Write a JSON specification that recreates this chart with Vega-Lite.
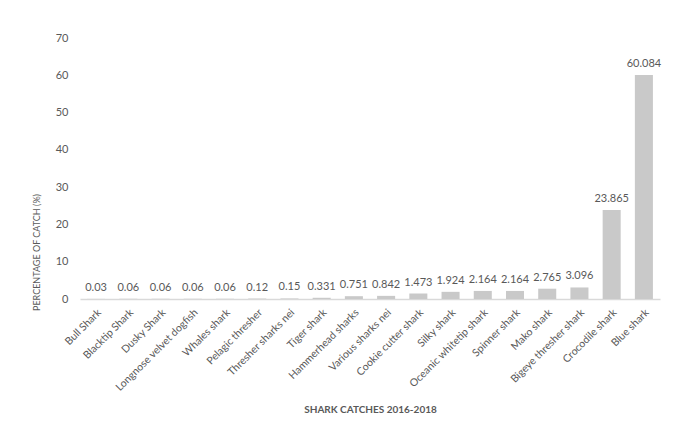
{
  "$schema": "https://vega.github.io/schema/vega-lite/v6.json",
  "description": "Shark catches 2016-2018, percentage of catch by species",
  "width": 580,
  "height": 261,
  "autosize": {"type": "none"},
  "padding": {"left": 80, "top": 38, "right": 22, "bottom": 136},
  "background": "white",
  "config": {
    "font": "Lato",
    "view": {"stroke": null},
    "axis": {"labelColor": "#595959", "titleColor": "#595959", "grid": false}
  },
  "data": {
    "values": [
      {"species": "Bull Shark", "pct": 0.03},
      {"species": "Blacktip Shark", "pct": 0.06},
      {"species": "Dusky Shark", "pct": 0.06},
      {"species": "Longnose velvet dogfish", "pct": 0.06},
      {"species": "Whales shark", "pct": 0.06},
      {"species": "Pelagic thresher", "pct": 0.12},
      {"species": "Thresher sharks nei", "pct": 0.15},
      {"species": "Tiger shark", "pct": 0.331},
      {"species": "Hammerhead sharks", "pct": 0.751},
      {"species": "Various sharks nei", "pct": 0.842},
      {"species": "Cookie cutter shark", "pct": 1.473},
      {"species": "Silky shark", "pct": 1.924},
      {"species": "Oceanic whitetip shark", "pct": 2.164},
      {"species": "Spinner shark", "pct": 2.164},
      {"species": "Mako shark", "pct": 2.765},
      {"species": "Bigeye thresher shark", "pct": 3.096},
      {"species": "Crocodile shark", "pct": 23.865},
      {"species": "Blue shark", "pct": 60.084}
    ]
  },
  "encoding": {
    "x": {
      "field": "species",
      "type": "nominal",
      "sort": null,
      "scale": {"paddingInner": 0.44, "paddingOuter": 0.22},
      "axis": {
        "title": "SHARK CATCHES 2016-2018",
        "titleFontWeight": "bold",
        "titleFontSize": 10,
        "titlePadding": 12,
        "labelAngle": -45,
        "labelFontSize": 10.5,
        "ticks": false,
        "labelPadding": 8,
        "domainColor": "#d9d9d9",
        "domainWidth": 1.5
      }
    },
    "y": {
      "field": "pct",
      "type": "quantitative",
      "scale": {"domain": [0, 70]},
      "axis": {
        "title": "PERCENTAGE OF CATCH (%)",
        "titleFontWeight": "normal",
        "titleFontSize": 9,
        "titleY": 214,
        "titlePadding": 14,
        "values": [0, 10, 20, 30, 40, 50, 60, 70],
        "labelFontSize": 11,
        "labelPadding": 12,
        "domain": false,
        "ticks": false
      }
    }
  },
  "layer": [
    {"mark": {"type": "bar", "color": "#c9c9c9"}},
    {
      "mark": {"type": "text", "dy": -6, "fontSize": 11, "color": "#595959", "baseline": "bottom"},
      "encoding": {"text": {"field": "pct", "type": "nominal"}}
    }
  ]
}
